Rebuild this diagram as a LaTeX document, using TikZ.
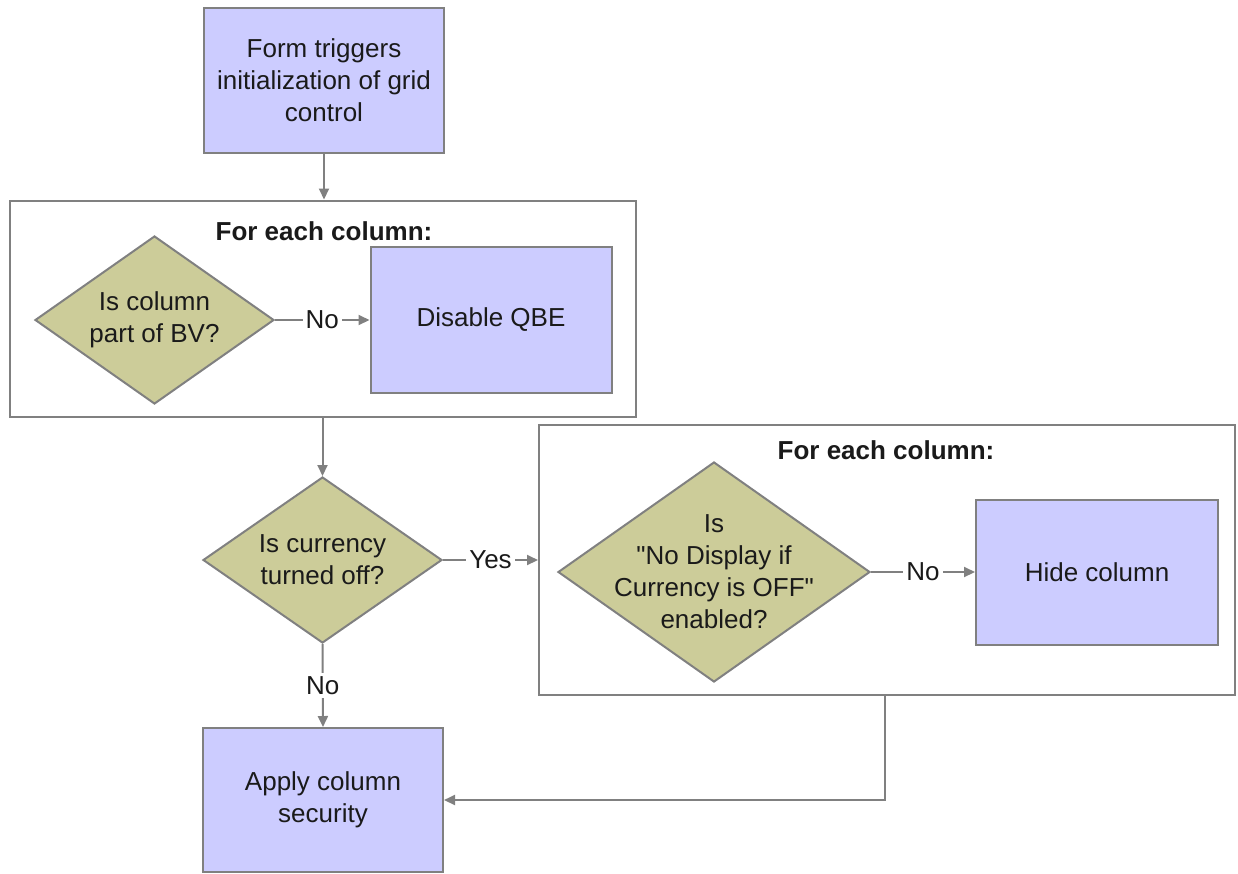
\documentclass[tikz,border=0pt]{standalone}
\usepackage{fontspec}
\setmainfont{Liberation Sans}[Ligatures=TeXOff]
\usetikzlibrary{shapes.geometric,arrows.meta}
\definecolor{boxfill}{HTML}{CCCCFF}
\definecolor{diafill}{HTML}{CCCC99}
\definecolor{edgegray}{HTML}{808080}
\definecolor{ink}{HTML}{1A1A1A}
\begin{document}
\begin{tikzpicture}[x=1pt,y=-1pt,
  every node/.style={font=\fontsize{26}{32}\selectfont, text=ink, align=center},
  procbox/.style={rectangle, draw=edgegray, fill=boxfill, line width=2pt, inner sep=0pt},
  dia/.style={diamond, draw=edgegray, fill=diafill, line width=2pt, inner sep=0pt},
  loopframe/.style={rectangle, draw=edgegray, line width=2pt, inner sep=0pt},
  framettl/.style={font=\bfseries\fontsize{26}{32}\selectfont},
  conn/.style={draw=edgegray, line width=2pt, -{Triangle[length=11pt,width=10pt]}},
  lbl/.style={fill=white, inner sep=3pt}
]
\useasboundingbox (0,0) rectangle (1238,873);

\node[procbox, minimum width=240pt, minimum height=145pt] (form) at (324,80.5) {Form triggers\\initialization of grid\\control};

\node[loopframe, minimum width=626pt, minimum height=216pt] (frame1) at (323,308.5) {};
\node[framettl] (t1) at (324,231) {For each column:};
\node[dia, minimum width=239pt, minimum height=168pt] (d1) at (154.5,320) {};
\node (d1t) at (d1) {Is column\\part of BV?};
\node[procbox, minimum width=241pt, minimum height=146pt] (qbe) at (491,320) {Disable QBE};

\node[dia, minimum width=239pt, minimum height=166pt] (d2) at (322.5,560) {};
\node (d2t) at (d2) {Is currency\\turned off?};

\node[loopframe, minimum width=696pt, minimum height=270pt] (frame2) at (887,560) {};
\node[framettl] (t2) at (886,450) {For each column:};
\node[dia, minimum width=312pt, minimum height=220pt] (d3) at (714,572) {};
\node (d3t) at (d3) {Is\\"No Display if\\Currency is OFF"\\enabled?};
\node[procbox, minimum width=242pt, minimum height=145pt] (hide) at (1097,572) {Hide column};

\node[procbox, minimum width=240pt, minimum height=144pt] (apply) at (323,800) {Apply column\\security};

\draw[conn] (form.south) -- (form.south |- frame1.north);
\draw[conn] (d2.north |- frame1.south) -- (d2.north);
\draw[conn] (d1.east) -- node[lbl] {No} (qbe.west);
\draw[conn] (d2.east) -- node[lbl] {Yes} (frame2.west |- d2.east);
\draw[conn] (d3.east) -- node[lbl] {No} (hide.west);
\draw[conn] (d2.south) -- node[lbl] {No} (apply.north);
\coordinate (bend) at (885,800);
\draw[conn] (frame2.south -| bend) -- (bend) -- (apply.east);
\end{tikzpicture}
\end{document}
